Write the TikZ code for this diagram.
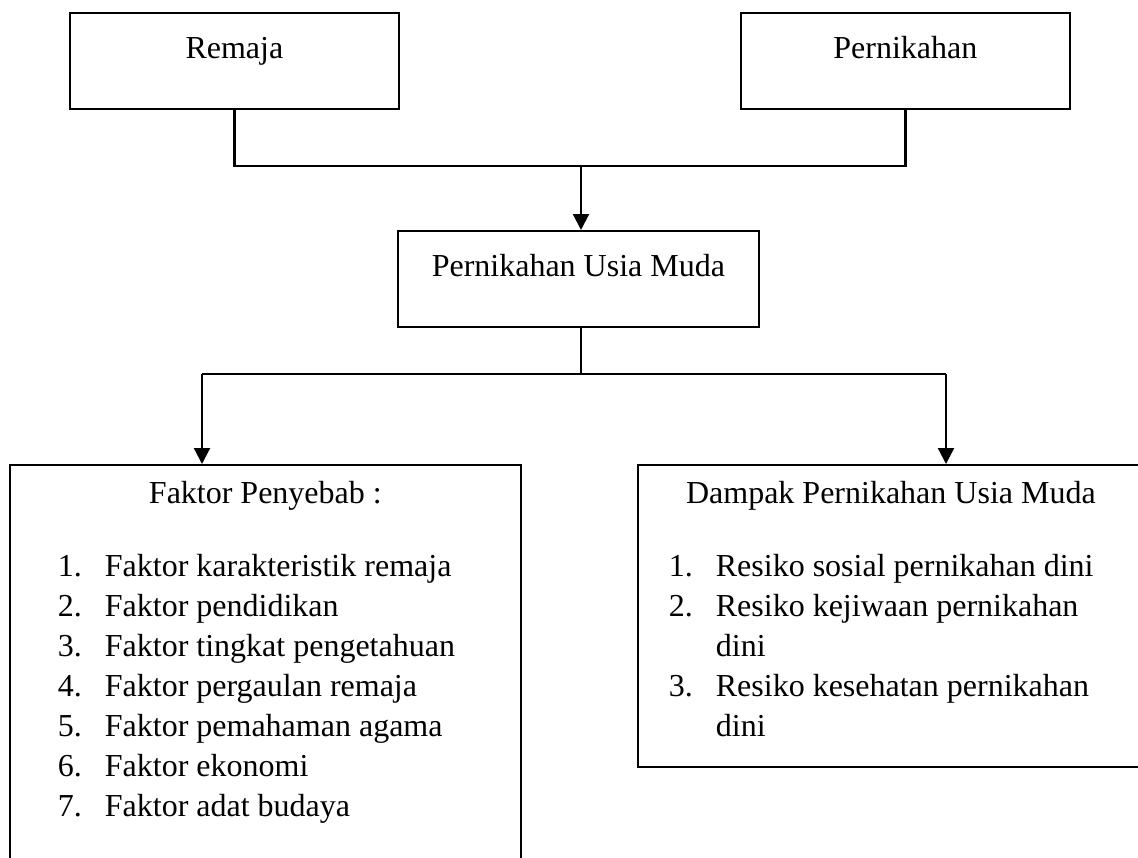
\documentclass[tikz,border=0pt]{standalone}
\usepackage{fontspec}
\setmainfont{Liberation Serif}
\usetikzlibrary{arrows.meta}
\newcommand{\butir}[1]{\noindent\llap{\makebox[47pt][l]{#1}}}
\tikzset{
  kotak/.style={draw,rectangle,line width=1.8pt,inner sep=0pt,text height=46pt,text depth=50pt,anchor=north west},
  daftar/.style={draw,rectangle,line width=1.8pt,inner sep=0pt,text height=39pt,anchor=north west},
  garis/.style={line width=2.2pt},
  panah/.style={garis,-{Triangle[length=16pt,width=16pt]}}
}

\begin{document}
\begin{tikzpicture}[x=1pt,y=-1pt,font=\fontsize{32}{40}\selectfont]
  \useasboundingbox (0,0) rectangle (1138,857);
  \clip (0,0) rectangle (1138,857);

  \node[kotak,minimum width=329pt] (remaja) at (69,12) {Remaja};
  \node[kotak,minimum width=329pt] (nikah) at (740,12) {Pernikahan};
  \node[kotak,minimum width=361pt] (pum) at (397,230) {Pernikahan Usia Muda};

  \node[daftar,text depth=420pt] (sebab) at (9,464) {\parbox[t]{511pt}{\centering Faktor Penyebab :\par
    \vspace{33pt}\raggedright\leftskip=95pt
    \butir{1.}Faktor karakteristik remaja\par
    \butir{2.}Faktor pendidikan\par
    \butir{3.}Faktor tingkat pengetahuan\par
    \butir{4.}Faktor pergaulan remaja\par
    \butir{5.}Faktor pemahaman agama\par
    \butir{6.}Faktor ekonomi\par
    \butir{7.}Faktor adat budaya\par}};
  \node[daftar,text depth=263pt] (dampak) at (637,464) {\parbox[t]{506pt}{\centering Dampak Pernikahan Usia Muda\par
    \vspace{33pt}\raggedright\leftskip=78pt
    \butir{1.}Resiko sosial pernikahan dini\par
    \butir{2.}Resiko kejiwaan pernikahan\newline dini\par
    \butir{3.}Resiko kesehatan pernikahan\newline dini\par}};

  \coordinate (atas) at (581,166);
  \coordinate (bawah) at (581,374);
  \coordinate (kiri) at (202,374);
  \coordinate (kanan) at (946,374);

  \draw[garis] (remaja.south) |- (atas) -| (nikah.south);
  \draw[panah] (atas) -- (atas |- pum.north);
  \draw[garis] (pum.south -| bawah) -- (bawah);
  \draw[garis] (kiri) -- (kanan);
  \draw[panah] (kiri) -- (kiri |- sebab.north);
  \draw[panah] (kanan) -- (kanan |- dampak.north);
\end{tikzpicture}
\end{document}
